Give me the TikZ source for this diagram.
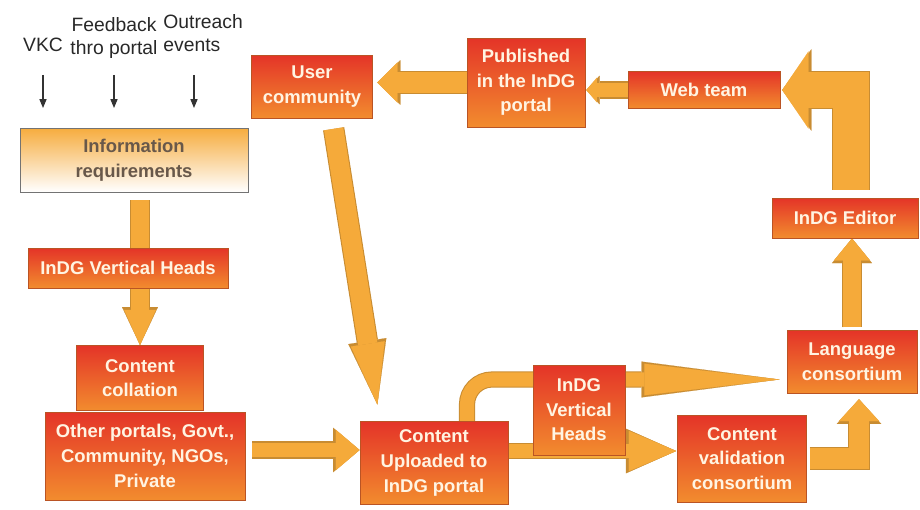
\documentclass[tikz,border=0pt]{standalone}
\usepackage{fontspec}
\setmainfont{Liberation Sans}
\usetikzlibrary{arrows.meta,backgrounds}

\definecolor{boxtop}{RGB}{228,52,40}
\definecolor{boxbot}{RGB}{242,140,46}
\definecolor{boxedge}{RGB}{186,84,36}
\definecolor{boxtext}{RGB}{255,244,226}
\definecolor{infotop}{RGB}{246,172,62}
\definecolor{infotext}{RGB}{104,88,74}
\definecolor{arrowfill}{RGB}{245,170,58}
\definecolor{arrowedge}{RGB}{200,140,50}
\definecolor{labeltext}{RGB}{40,40,40}

\tikzset{
  box/.style={draw=boxedge, line width=0.5pt, top color=boxtop, bottom color=boxbot,
    text=boxtext, font=\fontsize{10.5}{14}\selectfont\bfseries, align=center, inner sep=0pt},
  infobox/.style={box, draw=black!55, top color=infotop, bottom color=white, text=infotext},
  srclabel/.style={font=\fontsize{11}{13}\selectfont, text=labeltext, align=center, inner sep=0pt},
  thinarr/.style={draw=black!80, line width=0.6pt, -{Triangle[length=5pt,width=4pt]}},
}

% block arrow: shaft, head width, head length (pt), path
\newcommand\blockarrow[5][]{%
  \pgfmathsetmacro\bsw{#2+1.2}%
  \pgfmathsetmacro\bhw{#3+2.4}%
  \pgfmathsetmacro\bhl{#4+1.6}%
  \draw[arrowedge, #1, line width=\bsw pt,
    -{Triangle[width=\bhw pt,length=\bhl pt,line width=0.1pt]}] #5;
  \draw[arrowfill, #1, line width=#2pt,
    -{Triangle[width=#3pt,length=#4pt,line width=0.1pt]}] #5;
}

\begin{document}
\begin{tikzpicture}[x=0.02cm,y=-0.02cm]
  \useasboundingbox (0,0) rectangle (920,510);

  % sources
  \node[srclabel] (vkc) at (43,45) {VKC};
  \node[srclabel] (feed) at (114,38) {Feedback\\thro portal};
  \node[srclabel, align=left, anchor=west] (outr) at (163,33) {Outreach\\events};
  \coordinate (srctop) at (0,75);
  \coordinate (srcbot) at (0,108);
  \coordinate (outrx) at ([xshift=0.62cm]outr.west);

  % boxes
  \node[infobox, minimum width=4.56cm, minimum height=1.28cm] (info) at (134,160) {Information\\requirements};
  \node[box, minimum width=4.0cm, minimum height=0.8cm] (vhead) at (128,268) {InDG Vertical Heads};
  \node[box, minimum width=2.54cm, minimum height=1.3cm] (coll) at (140,378) {Content\\collation};
  \node[box, minimum width=4.0cm, minimum height=1.76cm] (other) at (145,456) {Other portals, Govt.,\\Community, NGOs,\\Private};
  \node[box, minimum width=2.96cm, minimum height=1.66cm] (upload) at (434,463) {Content\\Uploaded to\\InDG portal};
  \node[box, minimum width=2.42cm, minimum height=1.26cm] (user) at (312,86.5) {User\\community};
  \node[box, minimum width=2.36cm, minimum height=1.78cm] (pub) at (526,82.5) {Published\\in the InDG\\portal};
  \node[box, minimum width=3.04cm, minimum height=0.74cm] (web) at (704,90) {Web team};
  \node[box, minimum width=2.92cm, minimum height=0.8cm] (editor) at (845,218) {InDG Editor};
  \node[box, minimum width=2.6cm, minimum height=1.26cm] (lang) at (852,362) {Language\\consortium};
  \node[box, minimum width=2.58cm, minimum height=1.74cm] (valid) at (742,458.5) {Content\\validation\\consortium};
  \node[box, minimum width=1.84cm, minimum height=1.8cm] (vhead2) at (579,410) {InDG\\Vertical\\Heads};

  % thin arrows
  \draw[thinarr] (vkc.south |- srctop) -- (vkc.south |- srcbot);
  \draw[thinarr] (feed.south |- srctop) -- (feed.south |- srcbot);
  \draw[thinarr] (outrx |- srctop) -- (outrx |- srcbot);

  % block arrows
  \begin{scope}[on background layer]
    \blockarrow[shorten <=4.5pt]{10}{18}{20}{(info.south -| coll.north) -- (coll.north)}
    \blockarrow[shorten <=4pt]{8.5}{23}{13.5}{([yshift=0.12cm]other.east) -- ([yshift=0.12cm]other.east -| upload.west)}
    \blockarrow[shorten <=6pt, shorten >=9.5pt]{11}{19.5}{35}{([xshift=0.4cm]user.south) -- ([xshift=-1.08cm]upload.north)}
    \blockarrow[shorten >=2.5pt]{11.4}{23}{11.5}{(pub.west) -- (pub.west -| user.east)}
    \blockarrow[shorten >=0.5pt]{8.5}{14}{6}{(web.west) -- (web.west -| pub.east)}
    \blockarrow[shorten <=4.5pt, shorten >=1pt]{20}{44}{15}{([xshift=0.12cm]editor.north) |- (web.east)}
    \blockarrow[shorten <=1.5pt]{10}{20.5}{12.5}{(lang.north) -- (lang.north |- editor.south)}
    \blockarrow[shorten <=1.5pt, shorten >=3pt]{11.4}{23}{12.5}{(valid.east) -| ([xshift=0.14cm]lang.south)}
    \blockarrow[rounded corners=0.5cm, shorten >=4pt]{8}{18}{77}{([xshift=0.66cm]upload.north) |- ([yshift=-0.35cm]lang.west)}
    \blockarrow[shorten >=0.5pt]{7.5}{23}{27}{([yshift=0.24cm]upload.east) -- ([yshift=0.24cm]upload.east -| valid.west)}
  \end{scope}
\end{tikzpicture}
\end{document}
